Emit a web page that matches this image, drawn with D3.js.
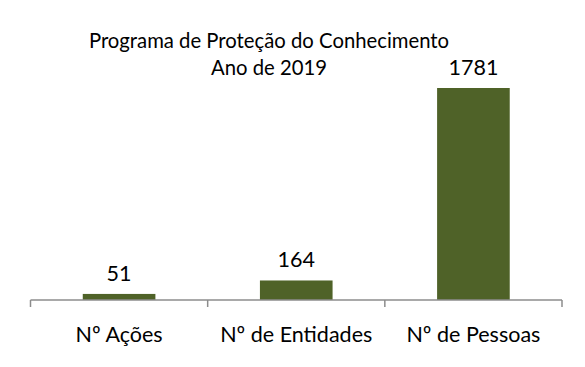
<!DOCTYPE html>
<html>
<head>
<meta charset="utf-8">
<script src="https://cdn.jsdelivr.net/npm/d3@7"></script>
<style>
  body { margin: 0; background: #fff; }
  text { font-family: Lato, "Open Sans", sans-serif; fill: #000; }
</style>
</head>
<body>
<svg id="vis" width="585" height="367"></svg>
<script>
const categories = ["Nº Ações", "Nº de Entidades", "Nº de Pessoas"];
const values = [51, 164, 1781];
const titleLines = ["Programa de Proteção do Conhecimento", "Ano de 2019"];

const svg = d3.select("svg#vis");
const left = 30.5, right = 562, baseY = 300, topY = 88;

// bars take ~41% of each category slot
const x = d3.scaleBand().domain(categories).range([left, right]).paddingInner(0.59).paddingOuter(0.295);
const y = d3.scaleLinear().domain([0, 1781]).range([baseY, topY]);

svg.selectAll("rect.bar")
    .data(values)
    .enter()
    .append("rect")
    .attr("class", "bar")
    .attr("x", (d, i) => x(categories[i]))
    .attr("width", x.bandwidth())
    .attr("y", d => y(d))
    .attr("height", d => baseY - y(d))
    .attr("fill", "#4f6228");

svg.append("line")
    .attr("x1", left).attr("x2", right)
    .attr("y1", baseY).attr("y2", baseY)
    .attr("stroke", "#8c8c8c")
    .attr("stroke-width", 1.5);

// tick marks sit between categories
const step = (right - left) / categories.length;
const tickPos = d3.range(categories.length + 1).map(i => left + i * step);
svg.selectAll("line.tick")
    .data(tickPos)
    .enter()
    .append("line")
    .attr("class", "tick")
    .attr("x1", d => d).attr("x2", d => d)
    .attr("y1", baseY).attr("y2", baseY + 7)
    .attr("stroke", "#8c8c8c")
    .attr("stroke-width", 1.5);

svg.selectAll("text.cat")
    .data(categories)
    .enter()
    .append("text")
    .attr("class", "cat")
    .attr("x", d => x(d) + x.bandwidth() / 2)
    .attr("y", 342)
    .attr("text-anchor", "middle")
    .attr("font-size", 21.5)
    .text(d => d);

svg.selectAll("text.val")
    .data(values)
    .enter()
    .append("text")
    .attr("class", "val")
    .attr("x", (d, i) => x(categories[i]) + x.bandwidth() / 2)
    .attr("y", d => y(d) - 13)
    .attr("text-anchor", "middle")
    .attr("font-size", 21.5)
    .text(d => d);

svg.selectAll("text.title")
    .data(titleLines)
    .enter()
    .append("text")
    .attr("class", "title")
    .attr("x", 269)
    .attr("y", (d, i) => 48 + i * 27)
    .attr("text-anchor", "middle")
    .attr("font-size", 20.3)
    .text(d => d);
</script>
</body>
</html>
